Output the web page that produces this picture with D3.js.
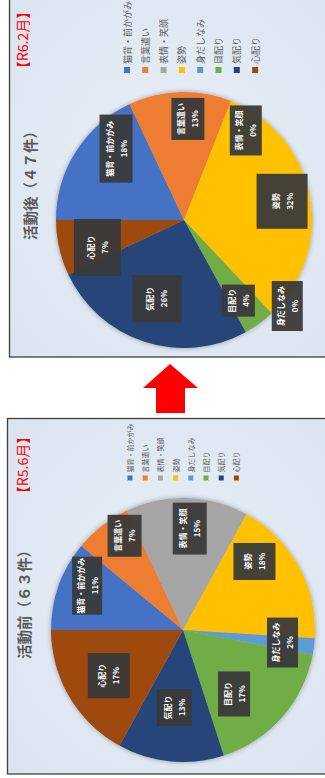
<!DOCTYPE html>
<html>
<head>
<meta charset="utf-8">
<script src="https://cdn.jsdelivr.net/npm/d3@7/dist/d3.min.js"></script>
<style>
  html, body { margin: 0; padding: 0; background: #ffffff; }
  svg { display: block; }
  text { font-family: "Noto Sans CJK JP", "Noto Sans", sans-serif; }
</style>
</head>
<body>
<svg id="chart" width="325" height="778"></svg>
<script>
// ---- data ----
const categories = ["猫背・前かがみ", "言葉遣い", "表情・笑顔", "姿勢", "身だしなみ", "目配り", "気配り", "心配り"];
const beforeValues = [11, 7, 15, 18, 2, 17, 13, 17];   // 活動前（63件） %
const afterValues  = [18, 13, 0, 32, 0, 4, 26, 7];     // 活動後（47件） %
const panelTitles  = ["活動後（４７件）", "活動前（６３件）"];
const periodLabels = ["【R6.2月】", "【R5.6月】"];
const sliceColors  = ["#4472C4", "#ED7D31", "#A5A5A5", "#FFC000", "#5B9BD5", "#70AD47", "#264478", "#9E480E"];

// ---- label box layout (radius fraction, angle nudge in degrees, box w/h) ----
const afterLabelLayout = [
  { f: 0.77, da: 14, w: 68, h: 33 },
  { f: 0.79, da: 4,  w: 42, h: 33 },
  { f: 0.85, da: 13, w: 50, h: 32 },
  { f: 0.78, da: 0,  w: 55, h: 51 },
  { f: 1.05, da: -7, w: 50, h: 31 },
  { f: 0.76, da: 2,  w: 32, h: 33 },
  { f: 0.65, da: 1,  w: 47, h: 49 },
  { f: 0.71, da: -5, w: 57, h: 47 }
];
const beforeLabelLayout = [
  { f: 0.80, da: 5,   w: 58, h: 30 },
  { f: 0.84, da: 6,   w: 42, h: 34 },
  { f: 0.77, da: 2,   w: 52, h: 34 },
  { f: 0.75, da: -15, w: 37, h: 42 },
  { f: 0.76, da: 0,   w: 50, h: 31 },
  { f: 0.62, da: 10,  w: 45, h: 32 },
  { f: 0.59, da: 1,   w: 37, h: 35 },
  { f: 0.66, da: -1,  w: 45, h: 42 }
];

const svg = d3.select("#chart");
const defs = svg.append("defs");

// panel background gradient
const grad = defs.append("radialGradient").attr("id", "panelBg").attr("cx", "50%").attr("cy", "50%").attr("r", "75%");
grad.append("stop").attr("offset", "0%").attr("stop-color", "#e9eff7");
grad.append("stop").attr("offset", "100%").attr("stop-color", "#d9e3ef");

// soft shadow round the pie
const shadow = defs.append("filter").attr("id", "pieShadow").attr("x", "-20%").attr("y", "-20%").attr("width", "140%").attr("height", "140%");
shadow.append("feGaussianBlur").attr("in", "SourceAlpha").attr("stdDeviation", 2.5).attr("result", "b");
shadow.append("feComponentTransfer").attr("in", "b").attr("result", "s")
  .append("feFuncA").attr("type", "linear").attr("slope", 0.35);
const merge = shadow.append("feMerge");
merge.append("feMergeNode").attr("in", "s");
merge.append("feMergeNode").attr("in", "SourceGraphic");

// panel frames
const frames = [
  { x: 9.5, y: -5, w: 330, h: 362 },
  { x: 7.5, y: 418.5, w: 330, h: 355.5 }
];
svg.selectAll("rect.frame").data(frames).join("rect")
  .attr("class", "frame")
  .attr("x", d => d.x).attr("y", d => d.y)
  .attr("width", d => d.w).attr("height", d => d.h)
  .attr("fill", "url(#panelBg)")
  .attr("stroke", "#3f3f3f").attr("stroke-width", 1.3);

// arrow between the panels
svg.append("path")
  .attr("d", "M170,364 L198,388 L185,388 L185,413 L156,413 L156,388 L143,388 Z")
  .attr("fill", "#ff0000");

const pie = d3.pie().value(d => d).sort(null);

function drawPanel(cfg) {
  // chart is laid out upright, then turned a quarter turn counter-clockwise
  const g = svg.append("g").attr("transform", `translate(${cfg.cx},${cfg.cy}) rotate(-90)`);
  const arc = d3.arc().innerRadius(0).outerRadius(cfg.r);
  const arcs = pie(cfg.values);

  g.append("g").attr("filter", "url(#pieShadow)")
    .selectAll("path").data(arcs).join("path")
    .attr("d", arc)
    .attr("fill", (d, i) => sliceColors[i]);

  // title
  g.append("text")
    .attr("x", cfg.title.x).attr("y", cfg.title.y)
    .attr("text-anchor", "middle").attr("dominant-baseline", "middle")
    .attr("font-size", 14.5).attr("font-weight", 700).attr("fill", "#595959")
    .text(cfg.titleText);

  // period
  g.append("text")
    .attr("x", cfg.period.x).attr("y", cfg.period.y)
    .attr("text-anchor", "middle").attr("dominant-baseline", "middle")
    .attr("font-size", 14).attr("fill", "#ff0000")
    .text(cfg.periodText);

  // legend
  const leg = g.append("g").selectAll("g").data(categories).join("g")
    .attr("transform", (d, i) => `translate(${cfg.legend.x},${cfg.legend.y0 + i * cfg.legend.step})`);
  leg.append("rect")
    .attr("x", -cfg.legend.sw / 2).attr("y", -cfg.legend.sw / 2)
    .attr("width", cfg.legend.sw).attr("height", cfg.legend.sw)
    .attr("fill", (d, i) => sliceColors[i]);
  leg.append("text")
    .attr("x", cfg.legend.sw / 2 + 3).attr("y", 0)
    .attr("dominant-baseline", "central")
    .attr("font-size", cfg.legend.fs).attr("fill", "#595959")
    .text(d => d);

  // data labels
  const lab = g.append("g").selectAll("g").data(arcs).join("g")
    .attr("transform", (d, i) => {
      const L = cfg.layout[i];
      const a = (d.startAngle + d.endAngle) / 2 + L.da * Math.PI / 180;
      const rr = L.f * cfg.r;
      return `translate(${Math.sin(a) * rr},${-Math.cos(a) * rr})`;
    });
  lab.append("rect")
    .attr("x", (d, i) => -cfg.layout[i].w / 2).attr("y", (d, i) => -cfg.layout[i].h / 2)
    .attr("width", (d, i) => cfg.layout[i].w).attr("height", (d, i) => cfg.layout[i].h)
    .attr("fill", "#3a3a3a").attr("fill-opacity", 0.95);
  lab.append("text")
    .attr("text-anchor", "middle").attr("dominant-baseline", "central")
    .attr("y", -7)
    .attr("font-size", 8).attr("font-weight", 700).attr("fill", "#ffffff")
    .text((d, i) => categories[i]);
  lab.append("text")
    .attr("text-anchor", "middle").attr("dominant-baseline", "central")
    .attr("y", 7)
    .attr("font-size", 8).attr("font-weight", 700).attr("fill", "#ffffff")
    .text(d => `${d.data}%`);
}

drawPanel({
  cx: 184, cy: 220, r: 128, values: afterValues, layout: afterLabelLayout,
  titleText: panelTitles[0], title: { x: 38, y: -152 },
  periodText: periodLabels[0], period: { x: 180, y: -160 },
  legend: { x: 150, y0: -57, step: 18.3, sw: 6, fs: 9 }
});

drawPanel({
  cx: 183, cy: 630, r: 132, values: beforeValues, layout: beforeLabelLayout,
  titleText: panelTitles[1], title: { x: 29, y: -157 },
  periodText: periodLabels[1], period: { x: 165, y: -159 },
  legend: { x: 152, y0: -53, step: 15.2, sw: 5, fs: 7 }
});
</script>
</body>
</html>
